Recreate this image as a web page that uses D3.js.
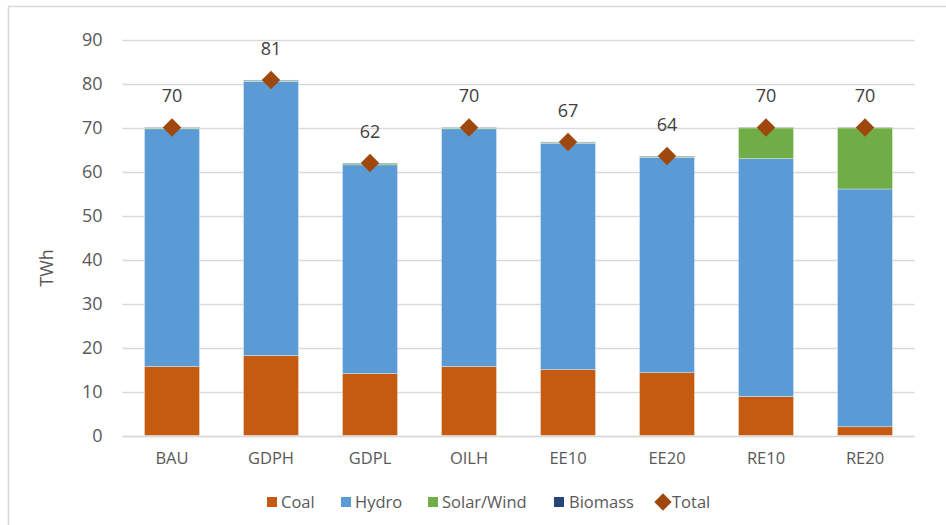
<!DOCTYPE html>
<html>
<head>
<meta charset="utf-8">
<script src="https://cdn.jsdelivr.net/npm/d3@7"></script>
<style>
  html, body { margin: 0; padding: 0; background: #fff; }
  svg { display: block; font-family: "Open Sans", "Noto Sans", sans-serif; }
</style>
</head>
<body>
<svg id="chart" width="946" height="525"></svg>
<script>
// Electricity generation by scenario (TWh)
const categories = ["BAU", "GDPH", "GDPL", "OILH", "EE10", "EE20", "RE10", "RE20"];
const coal    = [15.7, 18.2, 14.1, 15.7, 15.0, 14.3, 8.9, 2.0];
const hydro   = [54.1, 62.4, 47.5, 54.1, 51.5, 49.0, 54.1, 54.1];
const solar   = [0.2, 0.2, 0.3, 0.2, 0.2, 0.2, 7.0, 13.9];
const biomass = [0.1, 0.1, 0.1, 0.1, 0.1, 0.1, 0.1, 0.1];
const yTicks  = [0, 10, 20, 30, 40, 50, 60, 70, 80, 90];

const seriesNames = ["Coal", "Hydro", "Solar/Wind", "Biomass"];
const seriesColors = ["#C55A11", "#5B9BD5", "#70AD47", "#264478"];
const totalColor = "#9E480E";

const rows = categories.map((c, i) => ({
  cat: c,
  "Coal": coal[i],
  "Hydro": hydro[i],
  "Solar/Wind": solar[i],
  "Biomass": biomass[i]
}));
rows.forEach(r => { r.total = d3.sum(seriesNames, k => r[k]); });

const svg = d3.select("#chart");
const margin = { left: 122.5, right: 31.5, top: 40, bottom: 89 };
const W = 946, H = 525;

// outer chart frame
svg.append("rect")
  .attr("x", 8.5).attr("y", 6.5)
  .attr("width", 960).attr("height", 540)
  .attr("fill", "none").attr("stroke", "#D9D9D9").attr("stroke-width", 1.5);

const x = d3.scaleBand()
  .domain(categories)
  .range([margin.left, W - margin.right])
  .paddingInner(0.4444)
  .paddingOuter(0.2222);

const y = d3.scaleLinear()
  .domain([0, 90])
  .range([H - margin.bottom - 0.5, margin.top]);

// gridlines
svg.append("g")
  .selectAll("line")
  .data(yTicks)
  .join("line")
  .attr("x1", margin.left).attr("x2", W - margin.right)
  .attr("y1", d => Math.round(y(d)) + 0.5).attr("y2", d => Math.round(y(d)) + 0.5)
  .attr("stroke", "#D9D9D9").attr("stroke-width", 1.5);

// y axis labels
const yAxis = d3.axisLeft(y).tickValues(yTicks).tickSize(0).tickPadding(20);
const gy = svg.append("g")
  .attr("transform", `translate(${margin.left},0)`)
  .call(yAxis);
gy.select(".domain").remove();
gy.selectAll("text")
  .attr("fill", "#595959")
  .style("font-size", "18px")
  .style("font-family", "\"Open Sans\", sans-serif");

// stacked bars
const stack = d3.stack().keys(seriesNames);
const stacked = stack(rows);

svg.append("g")
  .selectAll("g")
  .data(stacked)
  .join("g")
  .attr("fill", (d, i) => seriesColors[i])
  .selectAll("rect")
  .data(d => d)
  .join("rect")
  .attr("x", d => x(d.data.cat))
  .attr("width", x.bandwidth())
  .attr("y", d => y(d[1]))
  .attr("height", d => y(d[0]) - y(d[1]))
  .attr("stroke", "#ffffff")
  .attr("stroke-opacity", 0.45)
  .attr("stroke-width", 0.75);

// baseline
svg.append("line")
  .attr("x1", margin.left).attr("x2", W - margin.right)
  .attr("y1", Math.round(y(0)) + 0.5).attr("y2", Math.round(y(0)) + 0.5)
  .attr("stroke", "#D9D9D9").attr("stroke-width", 1.5);

// x axis labels
const xAxis = d3.axisBottom(x).tickSize(0).tickPadding(17);
const gx = svg.append("g")
  .attr("transform", `translate(0,${y(0)})`)
  .call(xAxis);
gx.select(".domain").remove();
gx.selectAll("text")
  .attr("fill", "#595959")
  .style("font-size", "16.5px")
  .style("font-family", "\"Open Sans\", sans-serif");

// total markers
const diamond = d3.symbol().type(d3.symbolSquare).size(170);
svg.append("g")
  .selectAll("path")
  .data(rows)
  .join("path")
  .attr("d", diamond)
  .attr("transform", d => `translate(${x(d.cat) + x.bandwidth() / 2},${y(d.total)}) rotate(45)`)
  .attr("fill", totalColor);

// total labels
svg.append("g")
  .selectAll("text")
  .data(rows)
  .join("text")
  .attr("x", d => x(d.cat) + x.bandwidth() / 2)
  .attr("y", d => y(d.total) - 25)
  .attr("text-anchor", "middle")
  .attr("fill", "#404040")
  .style("font-size", "18px")
  .text(d => d3.format(".0f")(d.total));

// y axis title
svg.append("text")
  .attr("transform", "translate(53,268) rotate(-90)")
  .attr("text-anchor", "middle")
  .attr("fill", "#595959")
  .style("font-size", "18px")
  .text("TWh");

// legend
const legendItems = [
  { name: "Coal", color: seriesColors[0], sx: 267, tx: 281 },
  { name: "Hydro", color: seriesColors[1], sx: 341, tx: 355 },
  { name: "Solar/Wind", color: seriesColors[2], sx: 428, tx: 442 },
  { name: "Biomass", color: seriesColors[3], sx: 554, tx: 569 },
  { name: "Total", color: totalColor, sx: 655, tx: 672, marker: true }
];
const lg = svg.append("g");
legendItems.forEach(it => {
  if (it.marker) {
    lg.append("path")
      .attr("d", d3.symbol().type(d3.symbolSquare).size(150)())
      .attr("transform", `translate(${it.sx + 8},502) rotate(45)`)
      .attr("fill", it.color);
  } else {
    lg.append("rect")
      .attr("x", it.sx).attr("y", 497)
      .attr("width", 10).attr("height", 10)
      .attr("fill", it.color);
  }
  lg.append("text")
    .attr("x", it.tx).attr("y", 508)
    .attr("fill", "#595959")
    .style("font-size", "16.5px")
    .text(it.name);
});
</script>
</body>
</html>
